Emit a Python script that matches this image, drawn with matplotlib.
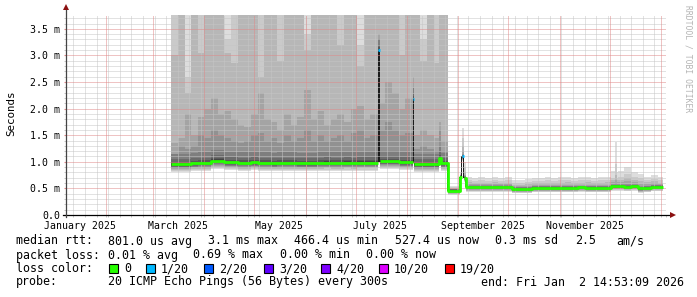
import datetime as dt
import numpy as np
import matplotlib.pyplot as plt
from matplotlib.patches import Rectangle

# sample start days (days since 2025-01-01); last entry closes the last sample
days = [70, 74, 78, 82, 86, 90, 94, 98, 102, 106, 110, 114, 118, 122, 126, 130,
        134, 138, 142, 146, 150, 154, 158, 162, 166, 170, 174, 178, 182, 186, 190,
        194.4, 195.6, 199, 203, 207, 211, 215.4, 216.2, 220, 224, 228, 231.4, 232.6,
        236.6, 244, 245, 246.2, 247.6, 251, 255, 259, 263, 267, 271, 275, 279, 283,
        287, 291, 295, 299, 303, 307, 311, 315, 319, 323, 327, 331, 335, 337, 338.2, 339, 343,
        347, 351, 355, 359, 363, 366]

# median rtt (ms)
median = [0.95, 0.95, 0.95, 0.97, 0.98, 0.98, 1.02, 1.02, 0.99, 0.99, 0.98, 0.98, 0.99, 0.98, 0.98, 0.97,
          0.98, 0.98, 0.98, 0.97, 0.97, 0.97, 0.98, 0.985, 0.98, 0.98, 0.985, 0.98, 0.985, 0.985, 0.985,
          3.10, 1.01, 1.01, 1.01, 0.99, 0.99, 2.18, 0.95, 0.95, 0.95, 0.95, 1.08, 0.97,
          0.46, 0.72, 1.10, 0.70, 0.52, 0.52, 0.52, 0.52, 0.52, 0.52, 0.52, 0.49, 0.49, 0.49,
          0.51, 0.51, 0.51, 0.51, 0.51, 0.51, 0.51, 0.52, 0.51, 0.51, 0.51, 0.51, 0.54, 0.54, 0.54, 0.54, 0.53,
          0.54, 0.50, 0.51, 0.53, 0.53]

# upper edges of the outer smoke bands (ms), outermost first
top1 = [3.8] * 44 + [
    0.55, 0.80, 1.64, 1.00, 0.72, 0.70, 0.71, 0.70, 0.72, 0.70, 0.71, 0.66, 0.66, 0.67,
    0.70, 0.70, 0.72, 0.70, 0.71, 0.72, 0.70, 0.71, 0.72, 0.70, 0.71, 0.72, 0.82, 1.38, 0.80, 0.82, 0.90,
    0.80, 0.78, 0.72, 0.76, 0.72]
top2 = [3.8, 3.8, 2.6, 3.8, 3.8, 3.8, 3.8, 3.8, 3.3, 3.8, 3.8, 3.8, 3.8, 3.8, 3.8, 3.8,
        3.8, 3.8, 3.8, 3.8, 3.4, 3.8, 3.8, 3.8, 3.8, 3.8, 3.8, 3.8, 3.2, 3.8, 3.8,
        3.8, 3.8, 3.8, 3.8, 3.8, 3.8, 3.8, 3.8, 3.3, 3.8, 3.8, 3.8, 3.8,
        0.52, 0.78, 1.45, 0.90, 0.66, 0.64, 0.65, 0.64, 0.66, 0.64, 0.65, 0.61, 0.61, 0.62,
        0.64, 0.64, 0.66, 0.64, 0.65, 0.66, 0.64, 0.65, 0.66, 0.64, 0.65, 0.66, 0.70, 0.95, 0.70, 0.72, 0.78,
        0.72, 0.70, 0.66, 0.68, 0.65]
top3 = [3.0, 3.8, 2.3, 3.8, 3.05, 3.8, 3.8, 3.8, 3.05, 2.85, 3.8, 3.8, 3.8, 2.6, 3.8, 3.8,
        2.9, 3.8, 3.8, 3.8, 3.1, 3.8, 3.8, 3.8, 3.8, 3.2, 3.8, 3.8, 2.8, 3.8, 3.8,
        3.8, 3.8, 3.8, 3.8, 3.0, 3.8, 3.8, 3.8, 2.9, 3.8, 2.85, 3.8, 3.8,
        0.50, 0.76, 1.30, 0.80, 0.62, 0.60, 0.61, 0.60, 0.62, 0.60, 0.61, 0.57, 0.57, 0.58,
        0.60, 0.60, 0.61, 0.60, 0.61, 0.62, 0.60, 0.61, 0.62, 0.60, 0.61, 0.62, 0.66, 0.75, 0.65, 0.66, 0.70,
        0.66, 0.64, 0.62, 0.63, 0.61]
top4 = [1.35, 1.45, 1.9, 1.5, 1.85, 2.0, 2.2, 1.9, 1.95, 1.8, 1.7, 1.65, 1.9, 2.3, 1.8, 1.75,
        1.6, 1.9, 1.7, 1.85, 2.35, 1.8, 1.95, 1.7, 1.8, 1.9, 1.75, 2.0, 2.05, 1.8, 1.9,
        3.4, 2.1, 2.5, 2.3, 2.0, 2.2, 2.6, 1.5, 1.6, 1.5, 1.45, 1.75, 1.4,
        0.49, 0.75, 1.20, 0.75, 0.58, 0.575, 0.575, 0.575, 0.575, 0.575, 0.575, 0.545, 0.545, 0.545,
        0.565, 0.565, 0.565, 0.565, 0.565, 0.565, 0.565, 0.565, 0.565, 0.565, 0.565, 0.565, 0.62, 0.66, 0.62, 0.62, 0.63,
        0.62, 0.58, 0.58, 0.60, 0.59]
top5 = [1.15, 1.3, 1.25, 1.3, 1.5, 1.45, 1.6, 1.5, 1.45, 1.4, 1.35, 1.4, 1.5, 1.55, 1.4, 1.45,
        1.35, 1.5, 1.4, 1.45, 1.6, 1.4, 1.5, 1.4, 1.45, 1.5, 1.4, 1.55, 1.6, 1.45, 1.5,
        3.2, 1.6, 1.75, 1.6, 1.5, 1.55, 2.3, 1.25, 1.3, 1.25, 1.2, 1.6, 1.2,
        0.48, 0.74, 1.15, 0.73, 0.56, 0.555, 0.555, 0.555, 0.555, 0.555, 0.555, 0.525, 0.525, 0.525,
        0.545, 0.545, 0.545, 0.545, 0.545, 0.545, 0.545, 0.545, 0.545, 0.545, 0.545, 0.545, 0.59, 0.61, 0.59, 0.59, 0.59,
        0.59, 0.55, 0.55, 0.57, 0.565]

# inner bands: spread above / below the median (ms), before and after the link change
change_day = 236.5
inner_up_old = [0.20, 0.10, 0.05, 0.025, 0.01]
inner_up_new = [0.03, 0.022, 0.015, 0.01, 0.005]
below_old = [0.15, 0.13, 0.11, 0.09, 0.075, 0.06, 0.045, 0.03, 0.02, 0.01]
below_new = [0.08, 0.07, 0.06, 0.05, 0.04, 0.03, 0.025, 0.02, 0.015, 0.008]

# samples with packet loss (day, lost pings out of 20)
loss_days = [194.4, 215.4, 245]
loss_counts = [1, 1, 1]

# short sample columns where the pings spread between two levels
jump_start = [194.4, 215.4, 236.0, 243.6, 244.6, 246.0, 247.2]
jump_end = [195.6, 216.4, 236.6, 244.2, 245.2, 246.6, 247.8]
jump_low = [0.99, 0.97, 0.46, 0.46, 0.72, 0.70, 0.52]
jump_high = [3.10, 2.18, 0.97, 0.72, 1.10, 1.10, 0.70]

loss_colors = {0: '#26ff00', 1: '#00b8ff', 2: '#0059ff', 3: '#5e00ff',
               4: '#7e00ff', 10: '#dd00ff', 19: '#ff0000'}
smoke_levels = [221, 202, 183, 164, 145, 126, 107, 88, 69, 50]

mono = 'DejaVu Sans Mono'
W, H = 697, 297

fig = plt.figure(figsize=(W / 100, H / 100), dpi=100)
fig.patch.set_facecolor('white')
ax = fig.add_axes([66 / W, 82 / H, 600 / W, 200 / H])
x0, x1 = 6.62, 366.62
ax.set_xlim(x0, x1)
ax.set_ylim(0, 3.76)
for s in ax.spines.values():
    s.set_visible(False)

edges = np.array(days)
med = np.array(median)
late = edges[:-1] >= change_day

# smoke
tops = [top1, top2, top3, top4, top5]
for k in range(10):
    grey = '#%02x%02x%02x' % ((smoke_levels[k],) * 3)
    if k < 5:
        up = np.array(tops[k])
    else:
        up = med + np.where(late, inner_up_new[k - 5], inner_up_old[k - 5])
    lo = med - np.where(late, below_new[k], below_old[k])
    ax.stairs(up, edges, baseline=lo, fill=True, color=grey, lw=0, zorder=1)

ax.bar(jump_start, np.array(jump_high) - np.array(jump_low), bottom=jump_low,
       width=np.array(jump_end) - np.array(jump_start), align='edge',
       color='#1c1c1c', lw=0, zorder=1.5)

# grid
base = dt.datetime(2025, 1, 1)


def dnum(d):
    return (d - base).total_seconds() / 86400


month_starts = [dnum(dt.datetime(2025 + m // 12, m % 12 + 1, 1)) for m in range(1, 13)]
sundays = [dnum(dt.datetime(2025, 1, 12) + dt.timedelta(weeks=w)) for w in range(52)]
dots = (0, (1, 1))
for x in sundays:
    ax.axvline(x, color='#c6c6c6', lw=0.72, ls=dots, zorder=2)
for y in np.arange(1, 38) / 10:
    if round(y * 10) % 5:
        ax.axhline(y, color='#c6c6c6', lw=0.72, ls=dots, zorder=2)
for x in month_starts:
    ax.axvline(x, color='#e08888', lw=0.72, ls=dots, zorder=2.1)
for y in np.arange(1, 8) / 2:
    ax.axhline(y, color='#e08888', lw=0.72, ls=dots, zorder=2.1)

# median line coloured by loss
lossmap = dict(zip(loss_days, loss_counts))
loss = np.array([lossmap.get(d, 0) for d in days[:-1]])
for lv, col in loss_colors.items():
    vals = np.where(loss == lv, med, np.nan)
    if np.all(np.isnan(vals)):
        continue
    ax.plot(edges, np.append(vals, np.nan), drawstyle='steps-post', color=col,
            lw=2.0, solid_capstyle='butt', zorder=3)

# axes with arrows
ax.plot([-3 / 600, 1 + 4 / 600], [0, 0], transform=ax.transAxes, color='black',
        lw=0.9, clip_on=False, zorder=4)
ax.plot([0, 0], [-2 / 200, 1 + 5 / 200], transform=ax.transAxes, color='#444444',
        lw=0.9, clip_on=False, zorder=4)
ax.plot([1 + 7 / 600], [0], marker='>', ms=4.5, color='#8b1010', mew=0,
        transform=ax.transAxes, clip_on=False, zorder=4)
ax.plot([0], [1 + 8 / 200], marker='^', ms=4.5, color='#8b1010', mew=0,
        transform=ax.transAxes, clip_on=False, zorder=4)

# ticks and labels
ytick_vals = np.arange(0, 8) / 2
ytick_text = ['0.0'] + ['%.1f m' % v for v in ytick_vals[1:]]
ax.set_yticks(ytick_vals, ytick_text)
ax.set_yticks([v / 10 for v in range(1, 38) if v % 5], minor=True)
ax.tick_params(axis='y', which='major', length=1.6, color='#e08888', pad=2.8,
               labelsize=7.1, labelfontfamily=mono)
ax.tick_params(axis='y', which='minor', length=1.6, color='#bbbbbb')
label_months = [1, 3, 5, 7, 9, 11]
label_pos = [dnum(dt.datetime(2025, m, 1)) + 15 for m in label_months]
label_text = [dt.datetime(2025, m, 1).strftime('%B %Y') for m in label_months]
ax.set_xticks(label_pos, label_text)
ax.set_xticks(sundays + month_starts, minor=True)
ax.tick_params(axis='x', which='major', length=0, pad=4.0, labelsize=7.1, labelfontfamily=mono)
ax.tick_params(axis='x', which='minor', length=1.6, color='#bbbbbb')

fig.text(11 / W, 1 - 113 / H, 'Seconds', rotation=90, ha='center', va='center',
         family=mono, fontsize=7.8)
fig.text(688 / W, 1 - 5 / H, 'RRDTOOL / TOBI OETIKER', rotation=-90, ha='center',
         va='top', family=mono, fontsize=5.8, color='#b4b4b4')

# legend
legend_rows = [
    (241, [(16, 'median rtt:'), (108, '801.0 us avg'), (208, '3.1 ms max'),
           (294, '466.4 us min'), (395, '527.4 us now'), (495, '0.3 ms sd'),
           (575, '2.5'), (616, 'am/s')]),
    (255, [(16, 'packet loss:'), (108, '0.01 % avg'), (193, '0.69 % max'),
           (280, '0.00 % min'), (366, '0.00 % now')]),
    (268.5, [(16, 'loss color:')]),
    (282, [(16, 'probe:'), (108, '20 ICMP Echo Pings (56 Bytes) every 300s'),
           (481, 'end: Fri Jan  2 14:53:09 2026')]),
]
for y, items in legend_rows:
    for x, s in items:
        fig.text(x / W, 1 - y / H, s, ha='left', va='center', family=mono, fontsize=8.4)

box_x = [109, 146, 204, 264, 321, 379, 445]
box_text = ['0', '1/20', '2/20', '3/20', '4/20', '10/20', '19/20']
for bx, key, txt in zip(box_x, loss_colors, box_text):
    fig.add_artist(Rectangle((bx / W, 1 - 273 / H), 9 / W, 9 / H, transform=fig.transFigure,
                             facecolor=loss_colors[key], edgecolor='black', lw=0.8))
    fig.text((bx + 15) / W, 1 - 268.5 / H, txt, ha='left', va='center', family=mono,
             fontsize=8.4)

fig.savefig('out.png', dpi=100, facecolor='white')
